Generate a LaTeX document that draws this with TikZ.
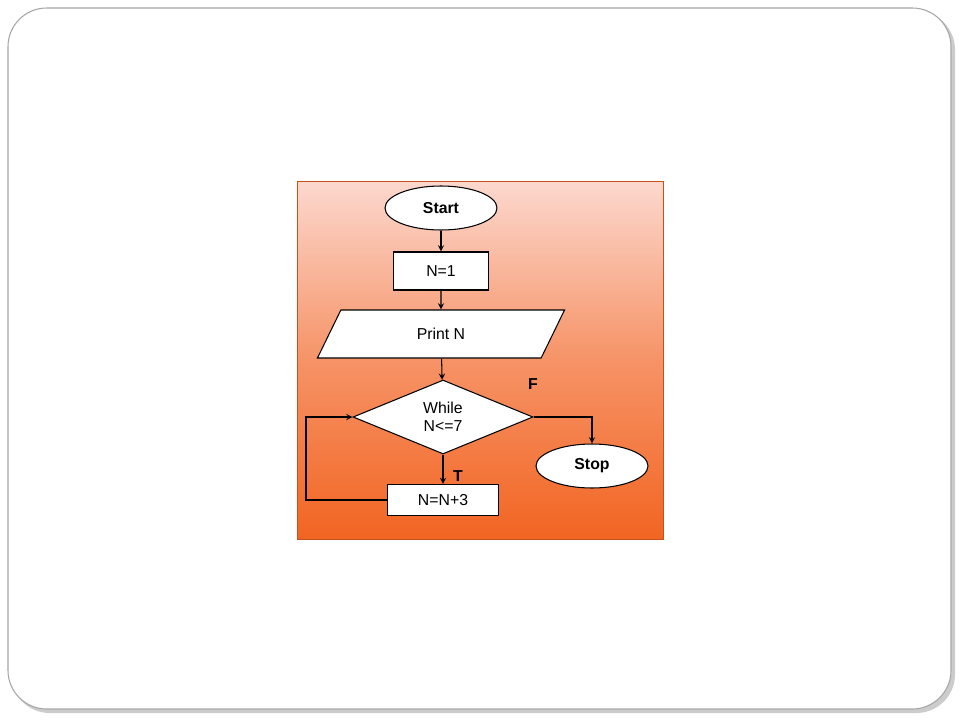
\documentclass[tikz,border=0pt]{standalone}
\usepackage{fontspec}
\setmainfont{Liberation Sans}
\usetikzlibrary{shapes.geometric,positioning}
\definecolor{lightpink}{HTML}{FCD8CE}
\definecolor{deeporange}{HTML}{F26522}
\begin{document}
\begin{tikzpicture}[x=0.02cm,y=-0.02cm, >=stealth, semithick,
  every node/.style={align=center, font=\fontsize{9}{10}\selectfont},
  box/.style={draw, fill=white, rectangle, inner sep=0pt},
  term/.style={draw, fill=white, ellipse, minimum width=2.24cm, minimum height=0.88cm, font=\fontsize{9}{10}\selectfont\bfseries}]
\useasboundingbox (0,0) rectangle (960,720);

% Frame and panel
\fill[gray!40, rounded corners=22] (11,11) rectangle (955,713);
\draw[gray!70, fill=white, rounded corners=22] (8,8) rectangle (951,709);
\shade[top color=lightpink, bottom color=deeporange, middle color=deeporange!60!lightpink] (297,181) rectangle (663,539);
\draw[deeporange!80!black, thin] (297,181) rectangle (663,539);

% Flowchart nodes
\node (start) [term] at (441,208) {Start};
\node (init) [box, minimum width=1.9cm, minimum height=0.76cm] at (441,271) {N=1};
\node (print) [draw, fill=white, trapezium, trapezium left angle=64, trapezium right angle=116,
  minimum width=2.3cm, minimum height=0.96cm, inner sep=0pt] at (441,334) {Print N};
\node (cond) [draw, fill=white, diamond, aspect=2.45, minimum width=3.6cm, minimum height=1.48cm, inner sep=0pt] at (443,417) {While\\N<=7};
\node (stop) [term] at (592,466) {Stop};
\node (incr) [box, minimum width=2.22cm, minimum height=0.62cm] at (443,500) {N=N+3};

% Labels
\node (flab) [font=\fontsize{9}{10}\selectfont\bfseries] at (533,384) {F};
\node (tlab) [font=\fontsize{9}{10}\selectfont\bfseries] at (458,476) {T};

% Connectors
\coordinate (loopbot) at (306,500);
\coordinate (looptop) at (306,417);
\coordinate (fturn) at (592,417);
\draw[->] (start) -- (init);
\draw[->] (init) -- (print);
\draw[->] (print) -- (cond);
\draw[->] (cond) -- (incr);
\draw[->] (cond.east) -- (fturn) -- (stop);
\draw[->] (incr.west) -- (loopbot) -- (looptop) -- (cond.west);

\end{tikzpicture}
\end{document}
